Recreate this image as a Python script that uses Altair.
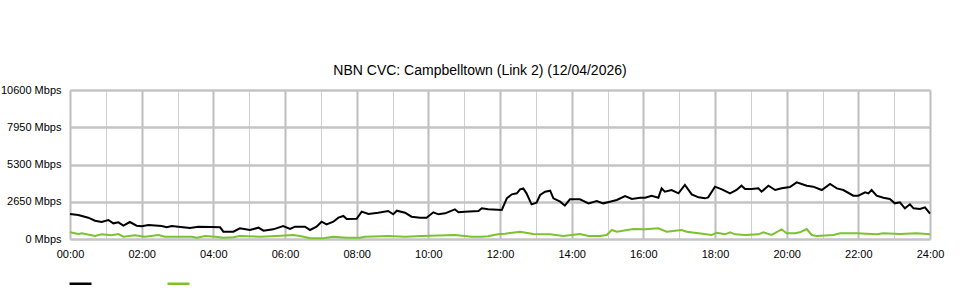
import altair as alt
import pandas as pd

TITLE = "NBN CVC: Campbelltown (Link 2) (12/04/2026)"

series_names = ["Download", "Upload"]
series_colors = ["#000000", "#7cc230"]

y_ticks = [0, 2650, 5300, 7950, 10600]
x_ticks = list(range(0, 25))

down_hours = [0.00, 0.23, 0.51, 0.70, 0.88, 1.07, 1.21, 1.35, 1.49, 1.67, 1.86, 2.00, 2.19, 2.56, 2.70,
              2.84, 3.02, 3.35, 3.58, 3.95, 4.19, 4.28, 4.56, 4.74, 5.02, 5.26, 5.40, 5.67, 5.95, 6.14,
              6.28, 6.56, 6.70, 6.88, 7.02, 7.16, 7.35, 7.49, 7.63, 7.72, 8.00, 8.14, 8.33, 8.60, 8.88,
              9.02, 9.12, 9.35, 9.53, 9.77, 9.95, 10.14, 10.28, 10.47, 10.74, 10.84, 11.02, 11.40, 11.49,
              11.67, 12.05, 12.19, 12.33, 12.47, 12.56, 12.65, 12.74, 12.88, 13.02, 13.12, 13.26, 13.40,
              13.49, 13.68, 13.81, 13.95, 14.23, 14.47, 14.70, 14.88, 15.07, 15.26, 15.49, 15.68, 15.91,
              16.05, 16.23, 16.42, 16.51, 16.60, 16.79, 16.98, 17.16, 17.35, 17.54, 17.72, 17.81, 18.00,
              18.19, 18.42, 18.60, 18.74, 18.84, 19.02, 19.21, 19.30, 19.49, 19.68, 19.86, 20.09, 20.28,
              20.56, 20.74, 20.98, 21.21, 21.40, 21.58, 21.86, 22.00, 22.19, 22.28, 22.37, 22.51, 22.70,
              22.88, 23.02, 23.16, 23.30, 23.44, 23.54, 23.72, 23.86, 24.00]
down_mbps = [1780, 1700, 1515, 1302, 1209, 1351, 1114, 1185, 948, 1209, 948, 901, 996, 925, 830,
             925, 877, 782, 877, 853, 830, 521, 521, 759, 640, 806, 593, 688, 925, 711,
             877, 877, 640, 877, 1233, 1043, 1233, 1517, 1636, 1423, 1440, 1944, 1778, 1873, 1991,
             1755, 2015, 1873, 1588, 1517, 1517, 1897, 1755, 1826, 2110, 1897, 1944, 1991, 2181,
             2110, 2063, 2893, 3177, 3248, 3533, 3603, 3248, 2466, 2585, 3130, 3367, 3438,
             2893, 2655, 2371, 2821, 2821, 2537, 2703, 2537, 2655, 2774, 3059, 2845, 2940,
             2940, 3082, 2940, 3603, 3367, 3485, 3248, 3842, 3177, 2964, 2893, 2964, 3722,
             3533, 3248, 3485, 3794, 3557, 3557, 3603, 3367, 3794, 3485, 3603, 3700, 4031,
             3794, 3722, 3485, 3912, 3603, 3485, 3082, 3082, 3320, 3248, 3485, 3082, 2940,
             2845, 2537, 2608, 2181, 2466, 2181, 2134, 2252, 1800]

up_hours = [0.00, 0.23, 0.33, 0.70, 0.88, 1.16, 1.35, 1.49, 1.81, 2.09, 2.47, 2.65, 3.40, 3.54, 3.77,
            4.05, 4.28, 4.56, 4.74, 5.30, 5.77, 6.23, 6.42, 6.70, 7.07, 7.35, 7.72, 8.09, 8.23, 8.88,
            9.35, 9.81, 10.74, 11.21, 11.49, 11.67, 11.86, 12.00, 12.14, 12.56, 12.93, 13.40, 13.77,
            14.23, 14.47, 14.79, 14.98, 15.12, 15.26, 15.72, 16.05, 16.42, 16.65, 17.07, 17.21, 17.54,
            17.91, 18.05, 18.28, 18.42, 18.56, 18.84, 19.21, 19.35, 19.58, 19.86, 20.00, 20.23, 20.37,
            20.56, 20.70, 20.84, 21.30, 21.49, 21.95, 22.51, 22.70, 23.16, 23.63, 24.00]
up_mbps = [474, 355, 403, 213, 332, 261, 355, 166, 261, 166, 285, 166, 166, 95, 213,
           166, 95, 118, 213, 166, 213, 285, 213, 47, 47, 166, 95, 95, 166, 213,
           166, 213, 285, 166, 166, 200, 300, 355, 380, 521, 355, 332, 213,
           355, 213, 213, 285, 640, 521, 711, 688, 759, 521, 640, 521, 403,
           285, 450, 332, 474, 332, 285, 332, 474, 285, 688, 403, 403, 474,
           711, 285, 213, 285, 403, 403, 332, 403, 355, 403, 332]

df = pd.concat([
    pd.DataFrame({"hour": down_hours, "mbps": down_mbps, "series": series_names[0]}),
    pd.DataFrame({"hour": up_hours, "mbps": up_mbps, "series": series_names[1]}),
])

FONT = "Liberation Sans"

chart = alt.Chart(df).mark_line(strokeWidth=2).encode(
    x=alt.X("hour:Q", title=None,
            scale=alt.Scale(domain=[0, 24], nice=False, zero=False),
            axis=alt.Axis(values=x_ticks, ticks=False, domain=False,
                          labelExpr="datum.value % 2 == 0 ? ((datum.value < 10 ? '0' : '') + datum.value + ':00') : ''",
                          labelFont=FONT, labelFontSize=11, labelColor="#000000",
                          labelPadding=9, labelFlush=False, labelOverlap=False,
                          grid=True,
                          gridColor={"expr": "datum.value % 2 == 0 ? '#bdbdbd' : '#cfcfcf'"},
                          gridWidth={"expr": "datum.value % 2 == 0 ? 2 : 1"})),
    y=alt.Y("mbps:Q", title=None,
            scale=alt.Scale(domain=[0, 10600], nice=False),
            axis=alt.Axis(values=y_ticks, ticks=False, domain=False,
                          labelExpr="datum.value + ' Mbps'",
                          labelFont=FONT, labelFontSize=11, labelColor="#000000",
                          labelPadding=9, grid=True, gridColor="#c4c4c4", gridWidth=2.5)),
    color=alt.Color("series:N",
                    scale=alt.Scale(domain=series_names, range=series_colors),
                    legend=alt.Legend(orient="none", legendX=-2, legendY=181,
                                      direction="horizontal", title=None, padding=0,
                                      symbolType="stroke", symbolSize=484,
                                      symbolStrokeWidth=2.5, labelExpr="''",
                                      labelOffset=0, columnPadding=65)),
).properties(
    width=860,
    height=149,
    title=alt.TitleParams(TITLE, font=FONT, fontSize=14, fontWeight="normal",
                          color="#000000", anchor="middle", dx=-20, offset=6),
    padding={"left": 70, "top": 90, "right": 30, "bottom": 61},
    autosize=alt.AutoSizeParams(type="none"),
).configure_view(
    stroke="#cccccc", strokeWidth=1
).configure(background="#ffffff")

chart.save("out.html", embed_options={"renderer": "svg", "actions": False})
